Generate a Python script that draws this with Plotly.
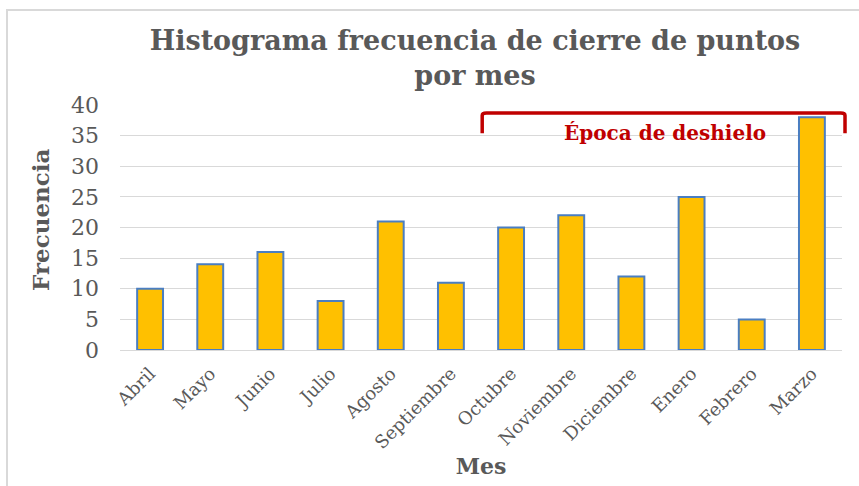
import plotly.graph_objects as go

meses = ["Abril", "Mayo", "Junio", "Julio", "Agosto", "Septiembre", "Octubre",
         "Noviembre", "Diciembre", "Enero", "Febrero", "Marzo"]
frecuencia = [10, 14, 16, 8, 21, 11, 20, 22, 12, 25, 5, 38]
y_ticks = [0, 5, 10, 15, 20, 25, 30, 35, 40]

W, H = 859, 486
ml, mr, mt, mb = 120, 17, 105, 136

fig = go.Figure(go.Bar(
    x=meses, y=frecuencia, width=0.43,
    marker=dict(color="#FFC000", line=dict(color="#4A7EC2", width=2)),
))

serif = "'DejaVu Serif', 'Liberation Serif', serif"
gray = "#595959"

fig.update_layout(
    width=W, height=H,
    margin=dict(l=ml, r=mr, t=mt, b=mb),
    paper_bgcolor="white", plot_bgcolor="white",
    showlegend=False,
    font=dict(family=serif, color=gray),
    title=dict(text="<b>Histograma frecuencia de cierre de puntos<br>por mes</b>",
               x=475 / W, xanchor="center", y=1 - 50 / H, yanchor="top",
               font=dict(size=27, color=gray, family=serif)),
    xaxis=dict(range=[-0.5, 11.5], tickangle=-45, tickfont=dict(size=18, color=gray),
               showgrid=False, showline=True, linecolor="#D9D9D9", linewidth=1,
               ticks="", ticklabelstandoff=5,
               title=dict(text="<b>Mes</b>", font=dict(size=22, color=gray), standoff=2)),
    yaxis=dict(range=[0, 40], tickvals=y_ticks, tickfont=dict(size=22, color=gray),
               showgrid=True, gridcolor="#D9D9D9", gridwidth=1, zeroline=False,
               ticks="", ticklabelstandoff=20),
)

pw = W - ml - mr
ph = H - mt - mb

# y-axis title placed as rotated text
fig.add_annotation(x=(40 - ml) / pw, y=(H - mb - 220) / ph, xref="paper", yref="paper",
                   text="<b>Frecuencia</b>", textangle=-90, showarrow=False,
                   xanchor="center", yanchor="middle",
                   font=dict(size=23, color=gray, family=serif))

# chart border (left/top visible)
fig.add_shape(type="rect", xref="paper", yref="paper",
              x0=(7 - ml) / pw, x1=(W + 10 - ml) / pw,
              y0=(H - mb - (H + 10)) / ph, y1=(H - mb - 10) / ph,
              line=dict(color="#D9D9D9", width=2), fillcolor="rgba(0,0,0,0)", layer="below")

# bracket "Época de deshielo" (paper coords so it is not clipped at the right edge)
red = "#C00000"
n = len(meses)
xl, xr = (5.52 + 0.5) / n, (11.55 + 0.5) / n
yt, yb = 38.7 / 40, 35.4 / 40
r = 0.4 / 40
fig.add_shape(type="path", xref="paper", yref="paper",
              path=(f"M {xl},{yb} L {xl},{yt - r} Q {xl},{yt} {xl + 0.006},{yt} "
                    f"L {xr - 0.006},{yt} Q {xr},{yt} {xr},{yt - r} L {xr},{yb}"),
              line=dict(color=red, width=3.5))
fig.add_annotation(x=8.55, y=35.4, xref="x", yref="y", text="<b>Época de deshielo</b>",
                   showarrow=False, font=dict(size=20, color=red, family=serif))

fig.write_html("out.html", post_script="document.body.style.margin='0';",
               config={"displayModeBar": False})
